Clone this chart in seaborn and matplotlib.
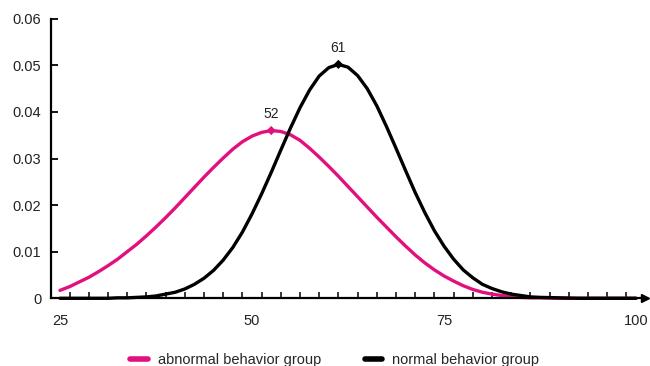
import matplotlib
matplotlib.use("Agg")
import matplotlib.pyplot as plt
from matplotlib.lines import Line2D
import seaborn as sns
import pandas as pd

# ---- data ----
x_values = [25, 26.25, 27.5, 28.75, 30, 31.25, 32.5, 33.75, 35, 36.25, 37.5, 38.75,
            40, 41.25, 42.5, 43.75, 45, 46.25, 47.5, 48.75, 50, 51.25, 52.5, 53.75,
            55, 56.25, 57.5, 58.75, 60, 61.25, 62.5, 63.75, 65, 66.25, 67.5, 68.75,
            70, 71.25, 72.5, 73.75, 75, 76.25, 77.5, 78.75, 80, 81.25, 82.5, 83.75,
            85, 86.25, 87.5, 90, 92.5, 95, 97.5, 100]
abnormal_y = [0.0017, 0.0025, 0.0035, 0.0045, 0.0057, 0.0070, 0.0084, 0.0100, 0.0116,
              0.0134, 0.0153, 0.0173, 0.0194, 0.0216, 0.0238, 0.0260, 0.0281, 0.0301,
              0.0320, 0.0336, 0.0348, 0.0356, 0.0360, 0.0358, 0.0351, 0.0339, 0.0322,
              0.0303, 0.0283, 0.0262, 0.0240, 0.0218, 0.0196, 0.0174, 0.0153, 0.0132,
              0.0112, 0.0093, 0.0076, 0.0061, 0.0048, 0.0037, 0.0027, 0.0019, 0.0013,
              0.0009, 0.0006, 0.0004, 0.0002, 0.0001, 0.0001, 0.0, 0.0, 0.0, 0.0, 0.0]
normal_y = [0.0, 0.0, 0.0, 0.0, 0.0, 0.0, 0.0001, 0.0001, 0.0002, 0.0003, 0.0005,
            0.0009, 0.0013, 0.0020, 0.0030, 0.0043, 0.0060, 0.0082, 0.0109, 0.0142,
            0.0181, 0.0224, 0.0270, 0.0318, 0.0365, 0.0409, 0.0447, 0.0477, 0.0495,
            0.0502, 0.0496, 0.0478, 0.0450, 0.0413, 0.0369, 0.0322, 0.0274, 0.0227,
            0.0184, 0.0145, 0.0112, 0.0084, 0.0061, 0.0044, 0.0030, 0.0021, 0.0014,
            0.0009, 0.0006, 0.0003, 0.0002, 0.0001, 0.0, 0.0, 0.0, 0.0]
series_names = ["abnormal behavior group", "normal behavior group"]
series_colors = ["#E2107E", "#000000"]
peak_x = [52.5, 61.25]
peak_y = [0.0360, 0.0502]
peak_labels = ["52", "61"]
x_tick_values = [25, 50, 75, 100]
x_tick_labels = ["25", "50", "75", "100"]
y_tick_values = [0, 0.01, 0.02, 0.03, 0.04, 0.05, 0.06]
y_tick_labels = ["0", "0.01", "0.02", "0.03", "0.04", "0.05", "0.06"]
minor_x_ticks = [26.25 + 2.5 * i for i in range(30)]

df = pd.DataFrame({
    "x": x_values * 2,
    "y": abnormal_y + normal_y,
    "group": [series_names[0]] * len(x_values) + [series_names[1]] * len(x_values),
})
peaks = pd.DataFrame({"x": peak_x, "y": peak_y, "group": series_names})
palette = dict(zip(series_names, series_colors))

sns.set_style("white")
plt.rcParams["font.family"] = ["Liberation Sans", "DejaVu Sans"]

fig = plt.figure(figsize=(6.5, 3.66), dpi=100)
ax = fig.add_axes([51 / 650, 1 - 298.3 / 366, (645 - 51) / 650, (298.3 - 18.7) / 366])

sns.lineplot(data=df, x="x", y="y", hue="group", palette=palette, lw=2.4,
             legend=False, ax=ax, clip_on=False)
sns.scatterplot(data=peaks, x="x", y="y", hue="group", palette=palette, marker="D",
                s=22, legend=False, ax=ax, zorder=5, linewidth=0)
for px, py, lab in zip(peak_x, peak_y, peak_labels):
    ax.annotate(lab, (px, py), xytext=(0, 12), textcoords="offset points",
                ha="center", va="center", fontsize=10, color="#222222")

ax.set_xlim(25 - 9 / 7.68, 25 + 585 / 7.68)
ax.set_ylim(0, 0.06)
ax.set_xticks(x_tick_values)
ax.set_xticklabels(x_tick_labels)
ax.set_xticks(minor_x_ticks, minor=True)
ax.set_yticks(y_tick_values)
ax.set_yticklabels(y_tick_labels)
ax.tick_params(which="both", bottom=True, left=True)
ax.tick_params(axis="x", which="major", length=0, pad=11, labelsize=10.5, labelcolor="#222222")
ax.tick_params(axis="x", which="minor", direction="in", length=4, width=1.1, color="black")
ax.tick_params(axis="y", which="major", direction="in", length=5, width=1.3, pad=7,
               labelsize=10.5, labelcolor="#222222", color="black")
ax.set_xlabel("")
ax.set_ylabel("")
for side in ["top", "right"]:
    ax.spines[side].set_visible(False)
for side in ["left", "bottom"]:
    ax.spines[side].set_color("black")
    ax.spines[side].set_linewidth(1.6)
ax.plot(1, 0, ">", color="black", ms=6, transform=ax.get_yaxis_transform(), clip_on=False)
ax.plot(0, 1, "^", color="black", ms=6, transform=ax.get_xaxis_transform(), clip_on=False)

handles = [Line2D([], [], color=c, lw=4) for c in series_colors]
fig.legend(handles, series_names, loc="center left", bbox_to_anchor=(130 / 650, 1 - 360 / 366),
           ncol=2, frameon=False, fontsize=10.5, handlelength=1.2, handletextpad=0.7,
           columnspacing=3.0, borderpad=0, borderaxespad=0)

fig.savefig("out.png", dpi=100)
